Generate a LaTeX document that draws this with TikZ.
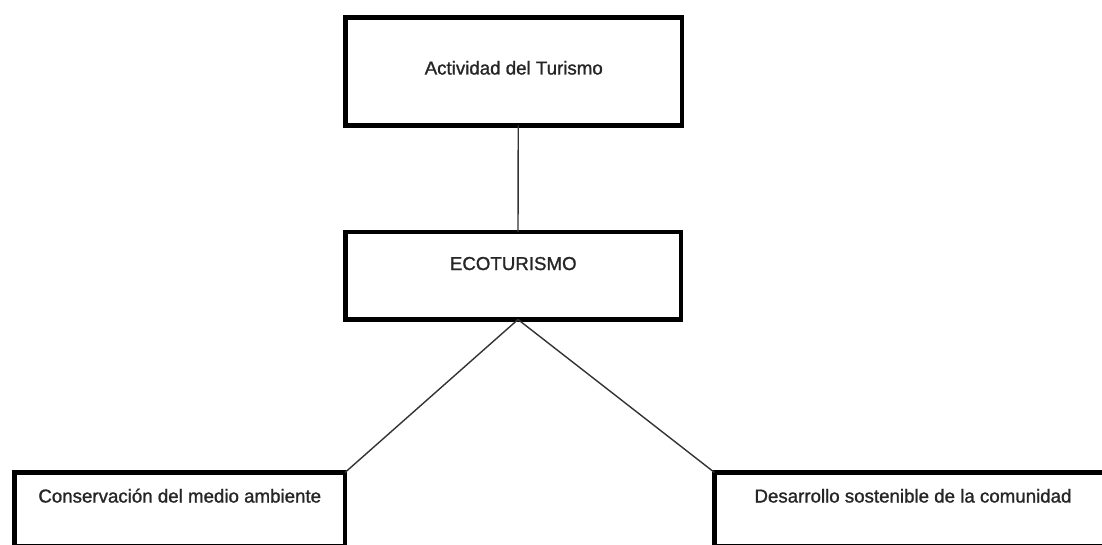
\documentclass[tikz,border=0pt]{standalone}
\usepackage{fontspec}
\setmainfont[FakeBold=1.2]{Liberation Sans}
\begin{document}
\begin{tikzpicture}[x=1pt,y=-1pt,
  box/.style={draw=black,line width=4.5pt,inner sep=0pt,outer sep=0pt,fill=white,
    font=\fontsize{18.7}{22}\selectfont,text=black!85},
  link/.style={draw=black!80,line width=1.4pt}]
\useasboundingbox[fill=white] (0,0) rectangle (1102,545);
% top box: x 345.5..682, y 17.5..125.5, baseline 74.5
\node[box,minimum width=336.5pt,text height=57pt,text depth=51pt,anchor=north west]
  (top) at (345.5,17.5) {Actividad del Turismo};
% eco box: x 345.5..681, y 232..319.5, baseline 270
\node[box,minimum width=335.5pt,text height=38pt,text depth=49.5pt,anchor=north west]
  (eco) at (345.5,232) {ECOTURISMO};
% bottom-left: x 14.5..345, y 472.5..
\node[box,minimum width=330.5pt,text height=30pt,text depth=44pt,anchor=north west]
  (bl) at (14.5,472.5) {Conservación del medio ambiente};
% bottom-right: x 714.5..1111.5
\node[box,minimum width=397pt,text height=30pt,text depth=44pt,anchor=north west]
  (br) at (714.5,472.5) {Desarrollo sostenible de la comunidad};
\draw[link] ([xshift=4.5pt]top.south) -- ([xshift=4.75pt]eco.north);
\draw[link] ([xshift=4.75pt]eco.south) -- (bl.north east);
\draw[link] ([xshift=4.75pt]eco.south) -- (br.north west);
\end{tikzpicture}
\end{document}
